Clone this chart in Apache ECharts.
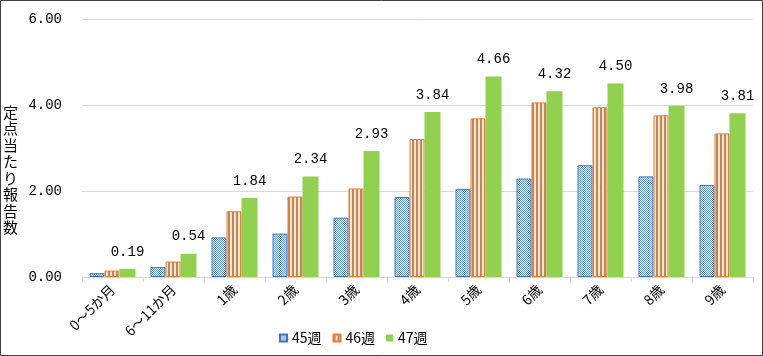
<!DOCTYPE html>
<html><head><meta charset="utf-8">
<script src="https://cdn.jsdelivr.net/npm/echarts@6/dist/echarts.min.js"></script>
<style>html,body{margin:0;padding:0;background:#fff}#c{width:763px;height:356px}</style>
</head><body><div id="c"></div>
<script>
const categories = ['0～5か月','6～11か月','1歳','2歳','3歳','4歳','5歳','6歳','7歳','8歳','9歳'];
const seriesNames = ['45週','46週','47週'];
const week45 = [0.09,0.23,0.92,1.01,1.38,1.86,2.05,2.29,2.60,2.34,2.14];
const week46 = [0.15,0.36,1.53,1.87,2.06,3.21,3.69,4.06,3.95,3.76,3.34];
const week47 = [0.19,0.54,1.84,2.34,2.93,3.84,4.66,4.32,4.50,3.98,3.81];
const yTicks = [0,2,4,6];
const yTitle = '定点当たり報告数';

function makeDots(){
  const c=document.createElement('canvas');c.width=2;c.height=2;
  const g=c.getContext('2d');
  g.fillStyle='#ffffff';g.fillRect(0,0,2,2);
  g.fillStyle='#5b8fd0';g.fillRect(0,0,1,1);g.fillRect(1,1,1,1);
  return c;
}
function makeStripes(){
  const c=document.createElement('canvas');c.width=4;c.height=4;
  const g=c.getContext('2d');
  g.fillStyle='#fbe3cc';g.fillRect(0,0,4,4);
  g.fillStyle='#b98a5e';g.fillRect(0,0,2,4);
  return c;
}
const chart = echarts.init(document.getElementById('c'));
const numFont = '"Liberation Mono","DejaVu Sans Mono",monospace';
const jpFont = '"Noto Sans CJK JP",sans-serif';
chart.setOption({
  animation:false,
  backgroundColor:'#fff',
  grid:{left:82,right:10,top:19,bottom:79,containLabel:false},
  legend:{
    data:seriesNames, left:274, top:326, itemWidth:7, itemHeight:7, itemGap:11,
    textStyle:{fontFamily:jpFont,fontSize:14,color:'#000'},
    icon:'rect'
  },
  xAxis:{
    type:'category', data:categories, boundaryGap:true,
    axisLine:{lineStyle:{color:'#d9d9d9',width:1}},
    axisTick:{show:true,length:5,lineStyle:{color:'#d9d9d9'}},
    axisLabel:{rotate:45,margin:10,color:'#000',fontFamily:jpFont,fontSize:14,interval:0}
  },
  yAxis:{
    type:'value', min:yTicks[0], max:yTicks[yTicks.length-1], interval:2,
    axisLine:{show:false}, axisTick:{show:false},
    splitLine:{lineStyle:{color:'#d9d9d9',width:1}},
    axisLabel:{margin:20,color:'#000',fontFamily:numFont,fontSize:14,formatter:v=>v.toFixed(2)}
  },
  graphic:[
    {type:'rect',shape:{x:0.5,y:0.5,width:762,height:355},style:{fill:'none',stroke:'#404040',lineWidth:1},silent:true},
    {type:'text',left:3,top:104,style:{text:yTitle.split('').join('\n'),font:'15px "Noto Sans CJK JP"',lineHeight:16.5,fill:'#000'}}
  ],
  series:[
    {name:seriesNames[0],type:'bar',data:week45,barWidth:15,barGap:'0%',
     itemStyle:{color:{image:makeDots(),repeat:'repeat'},borderColor:'#4472c4',borderWidth:1}},
    {name:seriesNames[1],type:'bar',data:week46,barWidth:15,barGap:'0%',
     itemStyle:{color:{image:makeStripes(),repeat:'repeat'},borderColor:'#ed7d31',borderWidth:1}},
    {name:seriesNames[2],type:'bar',data:week47,barWidth:16,barGap:'0%',
     itemStyle:{color:'#92d050'},
     label:{show:true,position:'top',distance:10,color:'#000',fontFamily:numFont,fontSize:14,formatter:p=>p.value.toFixed(2)}}
  ]
});
</script></body></html>
